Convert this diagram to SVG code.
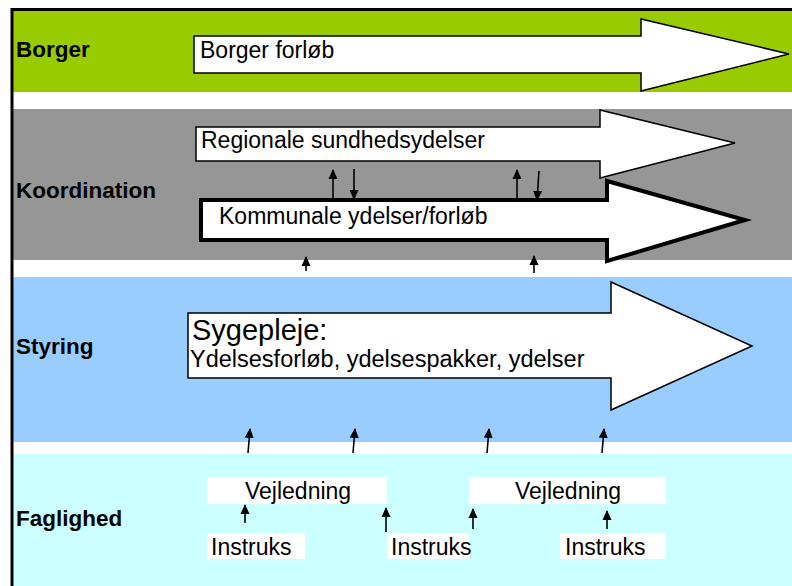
<svg xmlns="http://www.w3.org/2000/svg" width="792" height="586" viewBox="0 0 792 586">
<style>
.lbl{font-family:"Liberation Sans",Arial,sans-serif;font-weight:bold;font-size:22.5px;fill:#000}
.t{font-family:"Liberation Sans",Arial,sans-serif;font-size:23px;fill:#000}
.arr{fill:#fff;stroke:#000;stroke-width:1.5;stroke-linejoin:miter}
.box{fill:#fff}
.c{stroke:#000;stroke-width:1.6;fill:none}
</style>
<defs>
<marker id="ah" viewBox="0 0 10 10" refX="9" refY="5" markerWidth="10" markerHeight="10" markerUnits="userSpaceOnUse" orient="auto">
<path d="M0,0.5 L10,5 L0,9.5 z" fill="#000"/>
</marker>
</defs>
<rect x="0" y="0" width="792" height="586" fill="#fff"/>
<g id="band-borger">
<rect x="12" y="10" width="780" height="82" fill="#99CC00"/>
<text class="lbl" x="16" y="57">Borger</text>
</g>
<g id="band-koordination">
<rect x="12" y="109" width="780" height="151" fill="#969696"/>
<text class="lbl" x="16" y="198">Koordination</text>
</g>
<g id="band-styring">
<rect x="12" y="277" width="780" height="165" fill="#99CCFF"/>
<text class="lbl" x="16" y="354">Styring</text>
</g>
<g id="band-faglighed">
<rect x="12" y="454" width="780" height="132" fill="#CCFFFF"/>
<text class="lbl" x="16" y="526">Faglighed</text>
</g>
<path d="M12,586 L12,9.5 L792,9.5" fill="none" stroke="#000" stroke-width="3"/>
<g id="borger-forloeb">
<polygon class="arr" points="194,36 641,36 641,19 789,54 641,91 641,73 194,73"/>
<text class="t" x="200" y="58">Borger forløb</text>
</g>
<g id="kommunale-ydelser">
<polygon class="arr" style="stroke-width:4" points="201,200 607,200 607,181 745,220 607,261 607,240 201,240"/>
<text class="t" x="219" y="224">Kommunale ydelser/forløb</text>
</g>
<g id="regionale-sundhedsydelser">
<polygon class="arr" points="196,127 600,127 600,110 735,143 600,178 600,161 196,161"/>
<text class="t" x="201" y="148">Regionale sundhedsydelser</text>
</g>
<g id="sygepleje">
<polygon class="arr" points="188,313 611,313 611,282 752,346 611,410 611,378 188,378"/>
<text class="t" x="192" y="340" style="font-size:29px">Sygepleje:</text>
<text class="t" x="190" y="367" style="font-size:23.5px">Ydelsesforløb, ydelsespakker, ydelser</text>
</g>
<g id="vejledning-1">
<rect class="box" x="207" y="477" width="180" height="27"/>
<text class="t" x="245" y="499">Vejledning</text>
</g>
<g id="vejledning-2">
<rect class="box" x="469" y="477" width="197" height="27"/>
<text class="t" x="515" y="499">Vejledning</text>
</g>
<g id="instruks-1">
<rect class="box" x="207" y="533" width="98" height="26"/>
<text class="t" x="211" y="555">Instruks</text>
</g>
<g id="instruks-2">
<rect class="box" x="387" y="533" width="82" height="26"/>
<text class="t" x="391" y="555">Instruks</text>
</g>
<g id="instruks-3">
<rect class="box" x="560" y="533" width="106" height="26"/>
<text class="t" x="565" y="555">Instruks</text>
</g>
<g id="connectors">
<line class="c" x1="333" y1="199" x2="333" y2="170" marker-end="url(#ah)"/>
<line class="c" x1="354" y1="169" x2="354" y2="199" marker-end="url(#ah)"/>
<line class="c" x1="517" y1="199" x2="517" y2="170" marker-end="url(#ah)"/>
<line class="c" x1="539" y1="171" x2="537" y2="200" marker-end="url(#ah)"/>
<line class="c" x1="306" y1="271" x2="306" y2="257" marker-end="url(#ah)"/>
<line class="c" x1="534" y1="273" x2="534" y2="256" marker-end="url(#ah)"/>
<line class="c" x1="248" y1="453" x2="250" y2="429" marker-end="url(#ah)"/>
<line class="c" x1="353" y1="453" x2="355" y2="429" marker-end="url(#ah)"/>
<line class="c" x1="487" y1="453" x2="489" y2="429" marker-end="url(#ah)"/>
<line class="c" x1="602" y1="453" x2="604" y2="429" marker-end="url(#ah)"/>
<line class="c" x1="245" y1="523" x2="245" y2="505" marker-end="url(#ah)"/>
<line class="c" x1="386" y1="532" x2="386" y2="508" marker-end="url(#ah)"/>
<line class="c" x1="473" y1="529" x2="473" y2="509" marker-end="url(#ah)"/>
<line class="c" x1="607" y1="529" x2="607" y2="511" marker-end="url(#ah)"/>
</g>
</svg>
